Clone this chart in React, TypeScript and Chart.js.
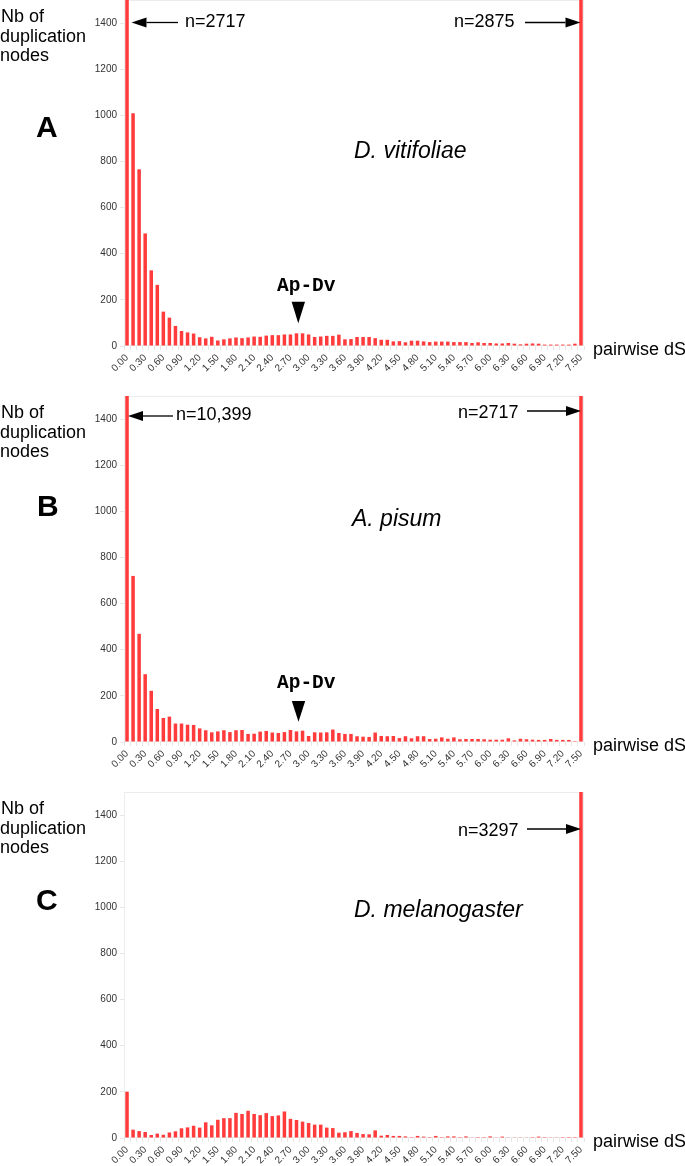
import React, { useEffect, useRef } from 'react';
import { Chart, registerables } from 'chart.js';

Chart.register(...registerables);

// ---------- DATA ----------
const dsBins = [
  '0.00','0.10','0.20','0.30','0.40','0.50','0.60','0.70','0.80','0.90',
  '1.00','1.10','1.20','1.30','1.40','1.50','1.60','1.70','1.80','1.90',
  '2.00','2.10','2.20','2.30','2.40','2.50','2.60','2.70','2.80','2.90',
  '3.00','3.10','3.20','3.30','3.40','3.50','3.60','3.70','3.80','3.90',
  '4.00','4.10','4.20','4.30','4.40','4.50','4.60','4.70','4.80','4.90',
  '5.00','5.10','5.20','5.30','5.40','5.50','5.60','5.70','5.80','5.90',
  '6.00','6.10','6.20','6.30','6.40','6.50','6.60','6.70','6.80','6.90',
  '7.00','7.10','7.20','7.30','7.40','7.50',
];

const xTickLabels = [
  '0.00','0.30','0.60','0.90','1.20','1.50','1.80','2.10','2.40','2.70',
  '3.00','3.30','3.60','3.90','4.20','4.50','4.80','5.10','5.40','5.70',
  '6.00','6.30','6.60','6.90','7.20','7.50',
];

const yTickValues = [0, 200, 400, 600, 800, 1000, 1200, 1400];

const vitifoliaeCounts = [
  2717, 1009, 766, 488, 328, 265, 149, 123, 87, 65,
  59, 54, 38, 33, 40, 24, 29, 33, 37, 34,
  37, 41, 40, 45, 47, 47, 50, 50, 55, 55,
  50, 39, 41, 44, 44, 49, 29, 30, 39, 39,
  39, 34, 27, 27, 20, 21, 16, 23, 23, 20,
  17, 19, 19, 19, 17, 17, 17, 13, 16, 13,
  13, 11, 11, 13, 10, 7, 10, 11, 10, 6,
  6, 6, 6, 6, 10, 2875,
];

const pisumCounts = [
  10399, 720, 469, 294, 222, 143, 104, 110, 80, 80,
  75, 74, 59, 51, 42, 46, 51, 43, 51, 52,
  35, 36, 45, 48, 41, 39, 43, 52, 46, 49,
  26, 42, 41, 42, 54, 39, 35, 35, 25, 23,
  22, 41, 26, 25, 26, 17, 25, 16, 25, 25,
  13, 14, 20, 14, 20, 12, 13, 13, 13, 12,
  10, 10, 10, 16, 7, 14, 12, 10, 9, 9,
  13, 9, 9, 9, 4, 2717,
];

const melanogasterCounts = [
  201, 36, 30, 26, 13, 19, 14, 24, 29, 42,
  46, 53, 45, 68, 55, 79, 86, 86, 109, 104,
  118, 104, 99, 108, 95, 98, 115, 83, 78, 71,
  65, 58, 58, 45, 43, 23, 25, 30, 22, 17,
  16, 33, 10, 13, 9, 9, 7, 4, 9, 6,
  4, 9, 4, 7, 7, 4, 7, 3, 4, 4,
  7, 3, 6, 3, 3, 3, 3, 4, 6, 4,
  3, 3, 4, 4, 4, 3297,
];

// ---------- STYLE ----------
const SANS = "'Liberation Sans', Arial, sans-serif";
const MONO = "'Liberation Mono', 'Courier New', monospace";
const BAR_RED = '#ff3b3b';
const FAINT = '#e6e6e6';
const PANEL_H = 396;
const W = 685;

const framePlugin = {
  id: 'frame',
  beforeDatasetsDraw(chart: any) {
    const { ctx, chartArea } = chart;
    ctx.save();
    ctx.strokeStyle = '#ececec';
    ctx.lineWidth = 1;
    ctx.strokeRect(
      Math.round(chartArea.left) + 0.5,
      Math.round(chartArea.top) + 0.5,
      Math.round(chartArea.right - chartArea.left) - 1,
      Math.round(chartArea.bottom - chartArea.top) - 1
    );
    ctx.restore();
  },
};

function Panel({ values, index }: { values: number[]; index: number }) {
  const ref = useRef<HTMLCanvasElement | null>(null);
  useEffect(() => {
    if (!ref.current) return;
    const chart = new Chart(ref.current, {
      type: 'bar',
      data: {
        labels: dsBins,
        datasets: [
          {
            data: values,
            backgroundColor: BAR_RED,
            borderWidth: 0,
            barPercentage: 0.58,
            categoryPercentage: 1,
          },
        ],
      },
      options: {
        animation: false,
        responsive: false,
        maintainAspectRatio: false,
        layout: { padding: { top: 1, right: 101, left: 0, bottom: 0 } },
        plugins: { legend: { display: false }, tooltip: { enabled: false } },
        scales: {
          x: {
            type: 'category',
            offset: true,
            grid: {
              display: true,
              drawOnChartArea: false,
              drawTicks: true,
              tickLength: 4,
              color: FAINT,
              offset: true,
            },
            border: { display: false },
            ticks: {
              autoSkip: false,
              minRotation: 45,
              maxRotation: 45,
              padding: 2,
              color: '#333',
              font: { size: 10, family: SANS },
              callback: function (this: any, v: any) {
                const l = this.getLabelForValue(v);
                return xTickLabels.includes(l) ? l : '';
              },
            },
            afterFit: (s: any) => {
              s.height = 49;
              s.paddingLeft = 0;
              s.paddingRight = 0;
            },
          },
          y: {
            min: 0,
            max: 1500,
            afterBuildTicks: (s: any) => {
              s.ticks = yTickValues.map((v) => ({ value: v }));
            },
            grid: {
              drawOnChartArea: false,
              drawTicks: true,
              tickLength: 4,
              color: FAINT,
            },
            border: { display: false },
            ticks: {
              padding: 3,
              color: '#333',
              font: { size: 10, family: SANS },
              callback: (v: any) => String(v),
            },
            afterFit: (s: any) => {
              s.width = 124;
              s.paddingTop = 0;
              s.paddingBottom = 0;
            },
          },
        },
      } as any,
      plugins: [framePlugin],
    });
    return () => chart.destroy();
  }, [values]);
  return (
    <canvas
      ref={ref}
      width={W}
      height={PANEL_H}
      style={{
        position: 'absolute',
        left: 0,
        top: PANEL_H * index - 1,
        width: W,
        height: PANEL_H,
        display: 'block',
      }}
    />
  );
}

type Txt = {
  x: number;
  y: number;
  t: string;
  size: number;
  family?: string;
  weight?: string;
  italic?: boolean;
};

const texts: Txt[] = [];
const letters = [
  { t: 'A', x: 36, y: 137 },
  { t: 'B', x: 37, y: 516 },
  { t: 'C', x: 36, y: 910 },
];
const species = [
  { t: 'D. vitifoliae', x: 354, y: 158 },
  { t: 'A. pisum', x: 352, y: 526 },
  { t: 'D. melanogaster', x: 354, y: 917 },
];
for (let i = 0; i < 3; i++) {
  const oy = PANEL_H * i;
  texts.push({ x: 1, y: oy + 22, t: 'Nb of', size: 18 });
  texts.push({ x: 0, y: oy + 41.5, t: 'duplication', size: 18 });
  texts.push({ x: 0, y: oy + 61, t: 'nodes', size: 18 });
  texts.push({ x: 593, y: oy + 355, t: 'pairwise dS', size: 18 });
  texts.push({ ...letters[i], size: 30, weight: 'bold' });
  texts.push({ ...species[i], size: 23, italic: true });
}
texts.push({ x: 185, y: 27, t: 'n=2717', size: 18 });
texts.push({ x: 454, y: 27, t: 'n=2875', size: 18 });
texts.push({ x: 176, y: 420, t: 'n=10,399', size: 18 });
texts.push({ x: 458, y: 418, t: 'n=2717', size: 18 });
texts.push({ x: 458, y: 836, t: 'n=3297', size: 18 });
texts.push({ x: 277, y: 291, t: 'Ap-Dv', size: 19.5, family: MONO, weight: 'bold' });
texts.push({ x: 277, y: 688, t: 'Ap-Dv', size: 19.5, family: MONO, weight: 'bold' });

const arrows = [
  { x1: 178, x2: 131.5, y: 22.5 },
  { x1: 525, x2: 580.5, y: 22.5 },
  { x1: 173, x2: 128, y: 416 },
  { x1: 527, x2: 581, y: 411 },
  { x1: 527, x2: 581, y: 829 },
];

const markers = [
  { x: 298.3, y1: 301.7, y2: 323.3 },
  { x: 298.5, y1: 701, y2: 721.7 },
];

export default function App() {
  return (
    <div
      style={{
        position: 'absolute',
        left: 0,
        top: 0,
        width: W,
        height: 1166,
        background: '#fff',
        overflow: 'hidden',
      }}
    >
      <Panel values={vitifoliaeCounts} index={0} />
      <Panel values={pisumCounts} index={1} />
      <Panel values={melanogasterCounts} index={2} />
      <svg
        width={W}
        height={1166}
        style={{ position: 'absolute', left: 0, top: 0, pointerEvents: 'none' }}
      >
        {texts.map((d, i) => (
          <text
            key={i}
            x={d.x}
            y={d.y}
            fontFamily={d.family || SANS}
            fontSize={d.size}
            fontWeight={d.weight || 'normal'}
            fontStyle={d.italic ? 'italic' : 'normal'}
            fill="#000"
          >
            {d.t}
          </text>
        ))}
        {arrows.map((a, i) => {
          const dir = a.x2 > a.x1 ? 1 : -1;
          const hl = 15;
          const hw = 5;
          const bx = a.x2 - dir * hl;
          return (
            <g key={i}>
              <line x1={a.x1} y1={a.y} x2={bx} y2={a.y} stroke="#000" strokeWidth={1.3} />
              <polygon
                points={`${a.x2},${a.y} ${bx},${a.y - hw} ${bx},${a.y + hw}`}
                fill="#000"
              />
            </g>
          );
        })}
        {markers.map((m, i) => (
          <polygon
            key={i}
            points={`${m.x - 6.7},${m.y1} ${m.x + 6.7},${m.y1} ${m.x},${m.y2}`}
            fill="#000"
          />
        ))}
      </svg>
    </div>
  );
}
